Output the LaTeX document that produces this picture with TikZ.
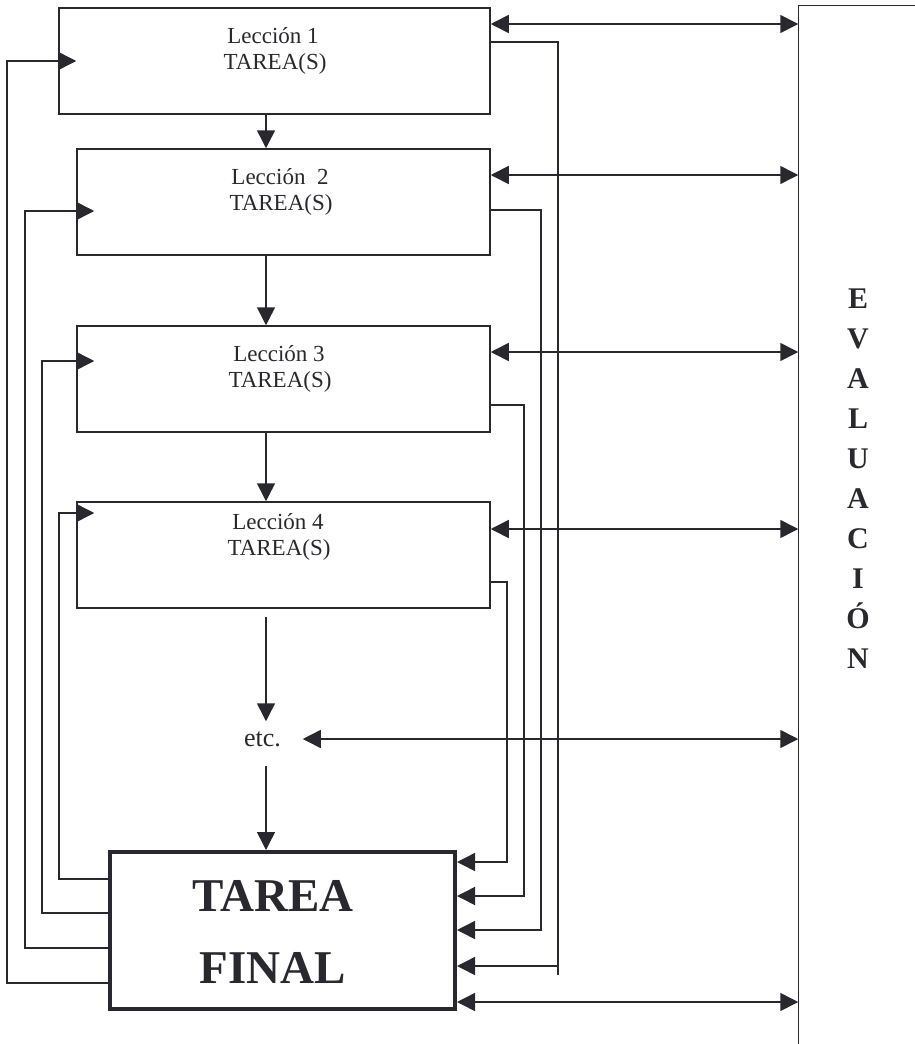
\documentclass[tikz,border=0pt]{standalone}
\usepackage{fontspec}
\setmainfont{Liberation Serif}
\usetikzlibrary{arrows.meta,fit}
\definecolor{ink}{RGB}{40,40,46}
\begin{document}
\begin{tikzpicture}[x=0.5pt,y=-0.5pt,line width=0.75pt,color=ink,
  box/.style={draw,inner sep=0pt,line width=0.75pt},
  finalbox/.style={draw,inner sep=0pt,line width=2pt},
  arr/.style={-{Triangle[length=9pt,width=9pt]}},
  barr/.style={{Triangle[length=9pt,width=9pt]}-{Triangle[length=9pt,width=9pt]}},
  ltext/.style={font=\fontsize{11.5}{13}\selectfont,inner sep=0pt,anchor=base},
  ftext/.style={font=\bfseries\fontsize{23.5}{28}\selectfont,inner sep=0pt,anchor=base},
  etext/.style={font=\bfseries\fontsize{15}{18}\selectfont,inner sep=0pt,anchor=base}]
\useasboundingbox (0,0) rectangle (915,1044);

% boxes
\node[box,fit={(59,8)(490,114)}] (L1) {};
\node[box,fit={(77,149)(490,255)}] (L2) {};
\node[box,fit={(77,326)(490,432)}] (L3) {};
\node[box,fit={(77,502)(490,608)}] (L4) {};
\node[finalbox,fit={(110,852)(455,1009)}] (TF) {};
\node[inner sep=0pt,fit={(799,6)(915,1044)}] (EV) {};
\draw (EV.north east) -- (EV.north west) -- (EV.south west);

% texts
\node[ltext] (L1a) at (273,43) {Lección 1};
\node[ltext] (L1b) at (275,69) {TAREA(S)};
\node[ltext] (L2a) at (280,184) {Lección~~2};
\node[ltext] (L2b) at (281,210) {TAREA(S)};
\node[ltext] (L3a) at (279,361) {Lección 3};
\node[ltext] (L3b) at (280,387) {TAREA(S)};
\node[ltext] (L4a) at (278,529) {Lección 4};
\node[ltext] (L4b) at (279,555) {TAREA(S)};
\node[ftext] (TFa) at (273,911) {TAREA};
\node[ftext] (TFb) at (273,983) {FINAL};
\foreach \l [count=\i] in {E,V,A,L,U,A,C,I,Ó,N}
  \node[etext] (ev\i) at (858,{308+40*(\i-1)}) {\l};

\node[font=\fontsize{13}{15}\selectfont,inner sep=0pt,minimum width=39.5pt,minimum height=17pt] (etc) at (262.5,739) {etc.};

% main chain
\coordinate (cx) at (266,0);
\draw[arr] (L1.south -| cx) -- (L2.north -| cx);
\draw[arr] (L2.south -| cx) -- (L3.north -| cx);
\draw[arr] (L3.south -| cx) -- (L4.north -| cx);
\draw[arr,shorten <=4pt] (L4.south -| cx) -- (etc.north -| cx);
\draw[arr,shorten <=4.5pt] (etc.south -| cx) -- (TF.north -| cx);

% evaluation links
\draw[barr] (L1.east |- 0,24) -- (EV.west |- 0,24);
\draw[barr] (L2.east |- 0,175) -- (EV.west |- 0,175);
\draw[barr] (L3.east |- 0,352) -- (EV.west |- 0,352);
\draw[barr] (L4.east |- 0,529) -- (EV.west |- 0,529);
\draw[barr] (etc.east) -- (EV.west |- etc.east);
\draw[barr] (TF.east |- 0,1002) -- (EV.west |- 0,1002);

% returns to final task
\draw (L1.east |- 0,42) -| (558,975);
\draw[arr] (558,966) -- (TF.east |- 0,966);
\draw[arr] (L2.east |- 0,210) -| (541,930) -- (TF.east |- 0,930);
\draw[arr] (L3.east |- 0,405) -| (524,896) -- (TF.east |- 0,896);
\draw[arr] (L4.east |- 0,582) -| (507,862) -- (TF.east |- 0,862);

% feedback from final task
\draw[arr,shorten >=-9pt] (TF.west |- 0,983) -| (7,61) -- (L1.west |- 0,61);
\draw[arr,shorten >=-9pt] (TF.west |- 0,948) -| (25,211) -- (L2.west |- 0,211);
\draw[arr,shorten >=-9pt] (TF.west |- 0,913) -| (42,361) -- (L3.west |- 0,361);
\draw[arr,shorten >=-9pt] (TF.west |- 0,879) -| (59,513) -- (L4.west |- 0,513);
\end{tikzpicture}
\end{document}
